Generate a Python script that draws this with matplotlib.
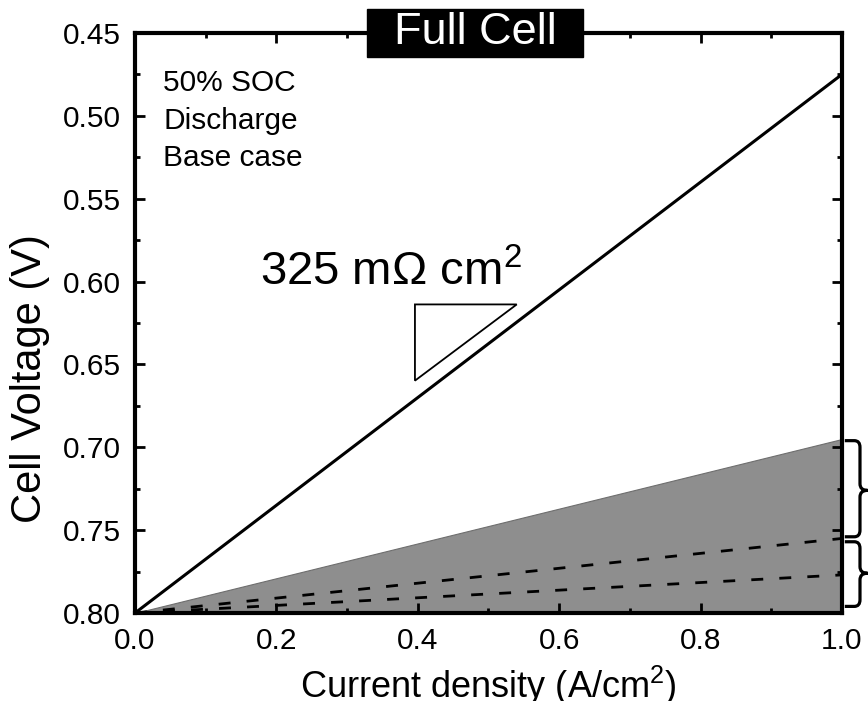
import matplotlib
matplotlib.use('Agg')
import matplotlib.pyplot as plt
import numpy as np
from matplotlib.path import Path
from matplotlib.patches import PathPatch, Rectangle, Polygon
from matplotlib.ticker import MultipleLocator, FormatStrFormatter

plt.rcParams['font.family'] = ['Liberation Sans', 'DejaVu Sans']
plt.rcParams['mathtext.fontset'] = 'custom'
plt.rcParams['mathtext.rm'] = 'Liberation Sans'
plt.rcParams['mathtext.it'] = 'Liberation Sans:italic'

# data
current = [0.0, 1.0]              # A/cm2
v_cell = [0.80, 0.475]            # solid line, total (325 mOhm cm2)
v_shaded = [0.80, 0.695]          # top of grey region
v_dash1 = [0.80, 0.755]
v_dash2 = [0.80, 0.777]
notes = ['50% SOC', 'Discharge', 'Base case']
x_ticks = [0.0, 0.2, 0.4, 0.6, 0.8, 1.0]
y_ticks = [0.45, 0.50, 0.55, 0.60, 0.65, 0.70, 0.75, 0.80]


def brace(ax, y0, y1, ym, xa=1.004, xb=1.0255, xt=1.036, rx=0.008, ry=0.004):
    # curly brace on the right of the axes, opening to the left
    verts = [(xa, y0), (xb - rx, y0), (xb, y0), (xb, y0 + ry),
             (xb, ym - ry), (xb, ym), (xt, ym), (xb, ym), (xb, ym + ry),
             (xb, y1 - ry), (xb, y1), (xb - rx, y1), (xa, y1)]
    codes = [Path.MOVETO, Path.LINETO, Path.CURVE3, Path.CURVE3,
             Path.LINETO, Path.CURVE3, Path.CURVE3, Path.CURVE3, Path.CURVE3,
             Path.LINETO, Path.CURVE3, Path.CURVE3, Path.LINETO]
    p = PathPatch(Path(verts, codes), facecolor='none', edgecolor='black',
                  lw=2.3, clip_on=False, capstyle='butt', joinstyle='round')
    ax.add_patch(p)


fig = plt.figure(figsize=(8.68, 7.01), dpi=100)
ax = fig.add_axes([0.1555, 0.1255, 0.8145, 0.8275])

ax.fill_between(current, v_shaded, 0.80, facecolor='#8e8e8e',
                edgecolor='#6e6e6e', lw=0.8, zorder=1)
ax.plot(current, v_cell, color='black', lw=2.2, zorder=3)
ax.plot(current, v_dash1, color='black', lw=2.0, dashes=(4.3, 5.8), zorder=3)
ax.plot(current, v_dash2, color='black', lw=2.0, dashes=(4.3, 5.8), zorder=3)

ax.set_xlim(0, 1.0)
ax.set_ylim(0.80, 0.45)
ax.set_xticks(x_ticks)
ax.set_yticks(y_ticks)
ax.xaxis.set_major_formatter(FormatStrFormatter('%.1f'))
ax.yaxis.set_major_formatter(FormatStrFormatter('%.2f'))
ax.xaxis.set_minor_locator(MultipleLocator(0.1))
ax.yaxis.set_minor_locator(MultipleLocator(0.025))
ax.tick_params(which='both', direction='in', top=True, right=True)
ax.tick_params(which='major', length=7, width=2, labelsize=21.5, pad=10)
ax.tick_params(which='minor', length=3.5, width=2)
for s in ax.spines.values():
    s.set_linewidth(3)

ax.set_xlabel('Current density (A/cm$^2$)', fontsize=26)
ax.xaxis.set_label_coords(0.5, -0.087)
ax.set_ylabel('Cell Voltage (V)', fontsize=30)
ax.yaxis.set_label_coords(-0.12, 0.405)

# slope triangle
tri = Polygon([(0.396, 0.6138), (0.540, 0.6138), (0.396, 0.6598)],
              closed=True, fill=False, edgecolor='black', lw=1.3, zorder=4)
ax.add_patch(tri)
ax.text(0.362, 0.595, '325 m\u03a9 cm$^2$', fontsize=34, ha='center', va='center')

ax.text(0.040, 0.937, '\n'.join(notes), fontsize=21.5, ha='left', va='top',
        linespacing=1.42, transform=ax.transAxes)

# title box
ax.add_patch(Rectangle((0.328, 0.959), 0.306, 0.082, transform=ax.transAxes,
                       facecolor='black', edgecolor='black', clip_on=False, zorder=10))
ax.text(0.481, 1.0, 'Full Cell', color='white', fontsize=32.5, ha='center',
        va='center', transform=ax.transAxes, zorder=11)

brace(ax, 0.696, 0.754, 0.726)
brace(ax, 0.757, 0.796, 0.776)

fig.savefig('out.png', dpi=100)
